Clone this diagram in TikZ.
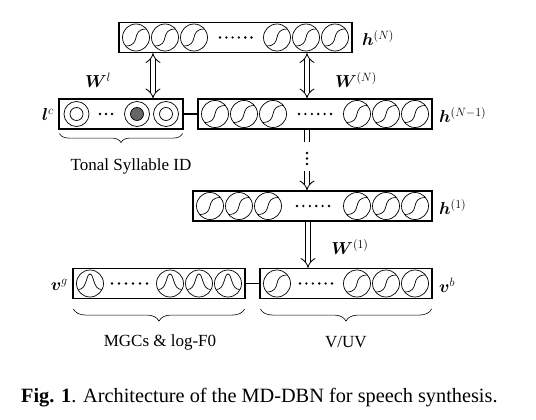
\documentclass[tikz,border=0pt]{standalone}
\usepackage{fontspec}
\setmainfont{Liberation Serif}
\usepackage{bm}
\usetikzlibrary{arrows.meta,decorations.pathreplacing,calc}
\begin{document}
\begin{tikzpicture}[x=1pt,y=-1pt,
  every node/.style={font=\fontsize{17}{20}\selectfont},
  layer/.style={draw,line width=1.1pt,minimum height=30pt,inner sep=0pt},
  sig/.style={draw,circle,line width=0.7pt,minimum size=27pt,inner sep=0pt,
    path picture={\draw[line width=0.7pt,shift={(path picture bounding box.center)}]
      (-10.5,8.5) .. controls (6,8.5) and (-6,-8.5) .. (10.5,-8.5);}},
  gau/.style={draw,circle,line width=0.7pt,minimum size=27pt,inner sep=0pt,
    path picture={\draw[line width=0.7pt,shift={(path picture bounding box.center)}]
      (-11.5,6) .. controls (-3,6) and (-4,-9.5) .. (0,-9.5) .. controls (4,-9.5) and (3,6) .. (11.5,6);}},
  tone/.style={draw,circle,line width=0.7pt,minimum size=25pt,inner sep=0pt,
    path picture={\draw[line width=0.7pt] (path picture bounding box.center) circle (6.5);}},
  toneon/.style={draw,circle,line width=0.7pt,minimum size=25pt,inner sep=0pt,
    path picture={\draw[line width=0.7pt,fill=black!60] (path picture bounding box.center) circle (6.5);}},
  lab/.style={inner sep=1pt},
  dblarrow/.style={double,double distance=4.5pt,line width=0.8pt,{Implies[scale=1.5]}-{Implies[scale=1.5]}},
  dblhead/.style={double,double distance=4.5pt,line width=0.8pt,-{Implies[scale=1.5]}},
  dblline/.style={double,double distance=4.5pt,line width=0.8pt},
  link/.style={line width=1.1pt},
  bracestyle/.style={decorate,line width=0.6pt},
  dotfill/.style={fill=black}
]
\useasboundingbox (0,0) rectangle (536,420);

% layers
\node[layer,minimum width=233pt] (hN)  at (235.5,37.5) {};
\node[layer,minimum width=124pt] (lc)  at (121,114) {};
\node[layer,minimum width=234pt] (hN1) at (315,114) {};
\node[layer,minimum width=239pt] (h1)  at (312.5,206) {};
\node[layer,minimum width=172pt] (vg)  at (159,283.5) {};
\node[layer,minimum width=172pt] (vb)  at (346,283.5) {};

% units h^(N)
\foreach \x [count=\i] in {136,165,194,277,306,335}
  \node[sig] (hNu\i) at (\x,37.5) {};
\foreach \i in {0,...,5} \fill[dotfill] (220+\i*6.3,37.5) circle (1.3);

% units h^(N-1)
\foreach \x [count=\i] in {215,244,273,357,386,415}
  \node[sig] (hN1u\i) at (\x,114) {};
\foreach \i in {0,...,5} \fill[dotfill] (299+\i*6.4,114) circle (1.3);

% units h^(1)
\foreach \x [count=\i] in {210,239,268,357,386,415}
  \node[sig] (h1u\i) at (\x,206) {};
\foreach \i in {0,...,5} \fill[dotfill] (297+\i*6.4,206) circle (1.3);

% units v^b
\foreach \x [count=\i] in {277,357,386,415}
  \node[sig] (vbu\i) at (\x,283.5) {};
\foreach \i in {0,...,5} \fill[dotfill] (300+\i*6.4,283.5) circle (1.3);

% units v^g
\foreach \x [count=\i] in {90,170,199,228}
  \node[gau] (vgu\i) at (\x,283.5) {};
\foreach \i in {0,...,5} \fill[dotfill] (112+\i*7,283.5) circle (1.3);

% units l^c
\node[tone] (lcu1) at (76.5,114) {};
\node[toneon] (lcu2) at (137,114) {};
\node[tone] (lcu3) at (166,114) {};
\foreach \i in {0,...,2} \fill[dotfill] (100+\i*6,114) circle (1.3);

% links
\draw[link] (lc.east) -- (hN1.west);
\draw[link] (vg.east) -- (vb.west);

% arrows
\coordinate (aL) at (153,0);
\coordinate (aM) at (307,0);
\coordinate (aB) at (308,0);
\draw[dblarrow] (hN.south -| aL) -- (lc.north -| aL);
\draw[dblarrow] (hN.south -| aM) -- (hN1.north -| aM);
\draw[dblline] (hN1.south -| aM) -- ($(hN1.south -| aM)+(0,12)$);
\foreach \y in {153,158.5,164} \fill[dotfill] (307,\y) circle (1.4);
\draw[dblhead] ($(h1.north -| aM)+(0,-19)$) -- (h1.north -| aM);
\draw[dblhead] (h1.south -| aB) -- (vb.north -| aB);

% braces
\draw[bracestyle,decoration={brace,mirror,amplitude=9pt}]
  ($(lc.south west)+(1,4)$) -- ($(lc.south east)+(-1,4)$);
\draw[bracestyle,decoration={brace,mirror,amplitude=12pt}]
  ($(vg.south west)+(1,10)$) -- ($(vg.south east)+(-1,10)$);
\draw[bracestyle,decoration={brace,mirror,amplitude=12pt}]
  ($(vb.south west)+(1,10)$) -- ($(vb.south east)+(-1,10)$);

% labels
\node[lab,anchor=west] (LhN)  at (361,38) {$\bm{h}^{(N)}$};
\node[lab,anchor=west] (LhN1) at (438,115) {$\bm{h}^{(N-1)}$};
\node[lab,anchor=west] (Lh1)  at (438,207) {$\bm{h}^{(1)}$};
\node[lab,anchor=west] (Lvb)  at (438,285) {$\bm{v}^{b}$};
\node[lab,anchor=east] (Lvg)  at (69,285) {$\bm{v}^{g}$};
\node[lab,anchor=east] (Llc)  at (55,115) {$\bm{l}^{c}$};
\node[lab] (LWl) at (98,80) {$\bm{W}^{l}$};
\node[lab] (LWN) at (356,80) {$\bm{W}^{(N)}$};
\node[lab] (LW1) at (350,247) {$\bm{W}^{(1)}$};

\node[lab] (tsid) at (131,166) {Tonal Syllable ID};
\node[lab] (mgc)  at (160,342) {MGCs \& log-F0};
\node[lab] (vuv)  at (346,342) {V/UV};

\node[lab,anchor=west,font=\fontsize{20.3}{24}\selectfont] (cap) at (20,398) {\textbf{Fig. 1}. Architecture of the MD-DBN for speech synthesis.};
\end{tikzpicture}
\end{document}
